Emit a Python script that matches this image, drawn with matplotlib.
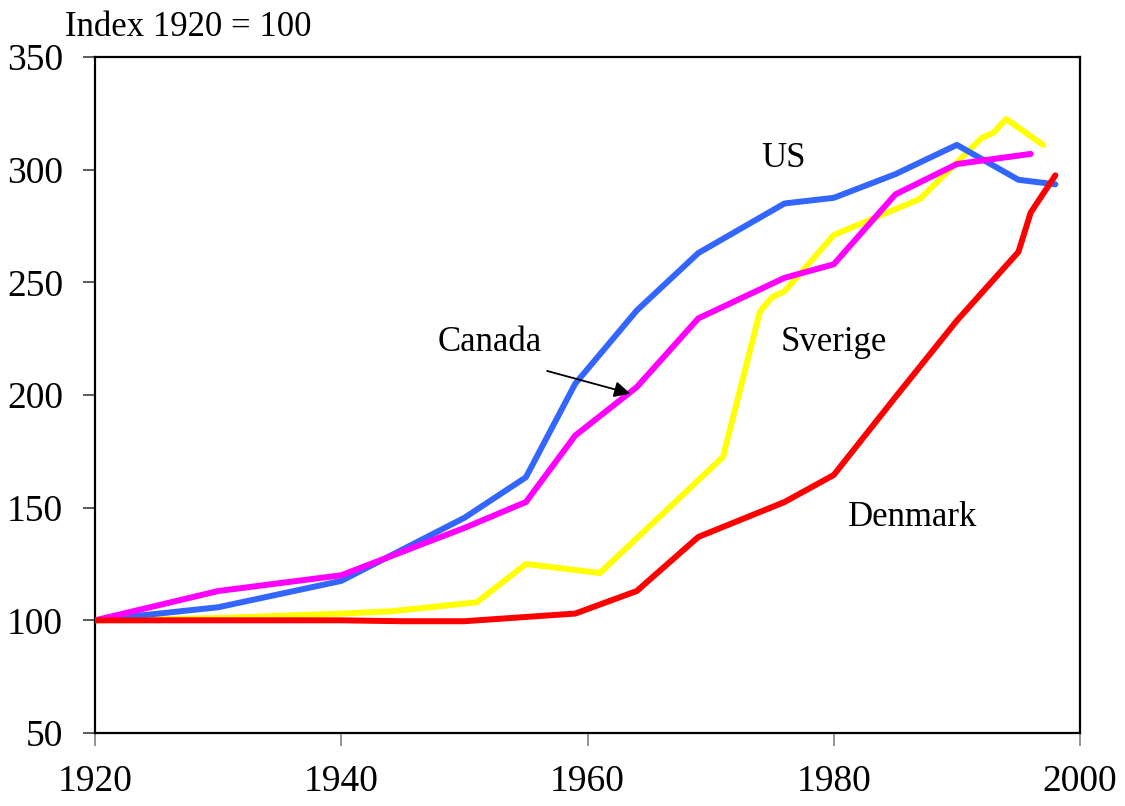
import matplotlib.pyplot as plt

plt.rcParams['font.family'] = ['Liberation Serif', 'DejaVu Serif']

# Index 1920 = 100
us_years = [1920, 1930, 1940, 1950, 1955, 1959, 1964, 1969, 1976, 1980, 1985, 1990, 1995, 1998]
us_vals = [100, 105.8, 117.5, 145.5, 163.5, 205, 237.5, 263, 285, 287.5, 298, 311, 295.5, 293.5]

canada_years = [1920, 1930, 1940, 1950, 1955, 1959, 1964, 1969, 1976, 1980, 1985, 1990, 1996]
canada_vals = [100, 113, 120, 141, 152.5, 182, 203.5, 234, 252, 258, 289, 302.5, 307]

sverige_years = [1920, 1930, 1940, 1944, 1951, 1955, 1961, 1971, 1974, 1975, 1976, 1980, 1987,
                 1992, 1993, 1994, 1997]
sverige_vals = [100, 101, 103, 104, 108, 125, 121, 172.5, 237, 243.5, 246, 271, 287,
                314, 316.5, 322.5, 311]

denmark_years = [1920, 1930, 1940, 1945, 1950, 1955, 1959, 1964, 1969, 1976, 1980, 1985, 1990,
                 1995, 1996, 1998]
denmark_vals = [100, 100, 100, 99.6, 99.6, 101.5, 103, 113, 137, 152.5, 164.5, 199, 233,
                263.5, 281, 297.5]

fig = plt.figure(figsize=(11.25, 8.06), dpi=100)
ax = fig.add_axes([95 / 1125, 1 - 733 / 806, (1080 - 95) / 1125, (733 - 57) / 806])

lw = 4.3
ax.plot(us_years, us_vals, color='#3366ff', lw=lw, solid_capstyle='round', zorder=3)
ax.plot(sverige_years, sverige_vals, color='#ffff00', lw=lw, solid_capstyle='round', zorder=2)
ax.plot(canada_years, canada_vals, color='#ff00ff', lw=lw, solid_capstyle='round', zorder=4)
ax.plot(denmark_years, denmark_vals, color='#ff0000', lw=lw, solid_capstyle='round', zorder=5)

ax.set_xlim(1920, 2000)
ax.set_ylim(50, 350)
ax.set_xticks([1920, 1940, 1960, 1980, 2000])
ax.set_yticks(range(50, 351, 50))
ax.tick_params(axis='x', direction='out', length=9, width=1.2, color='#808080', pad=14,
               labelsize=27)
ax.tick_params(axis='y', direction='out', length=9, width=1.2, color='#404040', pad=14,
               labelsize=27)
for s in ax.spines.values():
    s.set_linewidth(1.6)

fig.text(65 / 1125, 1 - 27 / 806, 'Index 1920 = 100', fontsize=25, ha='left', va='center')

lab = dict(fontsize=25, ha='center', va='center')
ax.text(1975.9, 305, 'US', **lab)
ax.text(1952.1, 223.4, 'Canada', **lab)
ax.text(1980.0, 223.4, 'Sverige', **lab)
ax.text(1986.4, 145.7, 'Denmark', **lab)
ax.annotate('', xy=(1963.7, 200.3), xytext=(1956.5, 211),
            arrowprops=dict(arrowstyle='-|>', color='black', lw=1.3, mutation_scale=24),
            zorder=6)

fig.savefig('out.png', dpi=100)
